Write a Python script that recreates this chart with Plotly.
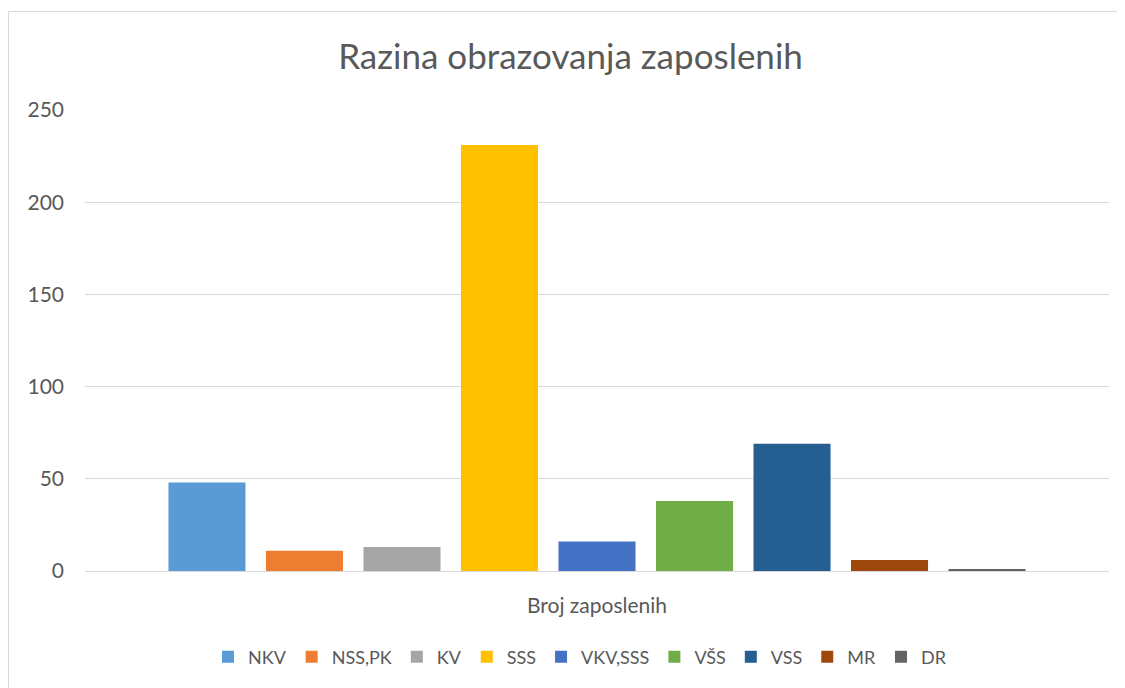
import plotly.graph_objects as go

category = ["Broj zaposlenih"]
series_names = ["NKV", "NSS,PK", "KV", "SSS", "VKV,SSS", "VŠS", "VSS", "MR", "DR"]
series_values = [48, 11, 13, 231, 16, 38, 69, 6, 1]
series_colors = ["#5B9BD5", "#ED7D31", "#A5A5A5", "#FFC000", "#4472C4",
                 "#70AD47", "#255E91", "#9E480E", "#636363"]
y_ticks = [0, 50, 100, 150, 200, 250]

FONT = "Lato"
TXT = "#595959"

# page has an 8px body margin; layout is compensated
L, R, T, B = 77, 24, 102, 125
PW, PH = 1125 - L - R, 688 - T - B

fig = go.Figure()
for name, val, col in zip(series_names, series_values, series_colors):
    fig.add_trace(go.Bar(name=name, x=category, y=[val], marker_color=col,
                         marker_line_width=0))

fig.update_layout(
    width=1125, height=688,
    paper_bgcolor="white", plot_bgcolor="white",
    margin=dict(l=L, r=R, t=T, b=B),
    barmode="group", bargap=0.143, bargroupgap=0.21,
    font=dict(family=FONT, color=TXT, size=18),
    title=dict(text="Razina obrazovanja zaposlenih", x=0.5, xanchor="center",
               y=1 - 49 / 688, yanchor="middle",
               font=dict(family=FONT, size=35, color=TXT)),
    legend=dict(orientation="h", x=(572 - L) / PW, xanchor="center",
                y=(T + PH - 649) / PH, yanchor="middle",
                font=dict(family=FONT, size=18, color=TXT),
                itemwidth=30, traceorder="normal"),
    showlegend=True,
)
fig.update_yaxes(range=[0, 250], tickvals=y_ticks, showgrid=True, gridcolor="#D9D9D9",
                 gridwidth=1, zeroline=False, showline=False, ticks="",
                 ticklabelstandoff=20, tickfont=dict(family=FONT, size=21, color=TXT))
fig.update_xaxes(showline=True, linecolor="#D9D9D9", linewidth=1, ticks="",
                 ticklabelstandoff=16, tickfont=dict(family=FONT, size=21, color=TXT))

fig.add_shape(type="rect", xref="paper", yref="paper",
              x0=(0.5 - L) / PW, x1=(1140 - L) / PW,
              y0=(T + PH - 700) / PH, y1=(T + PH - 3.5) / PH,
              line=dict(color="#D9D9D9", width=1), fillcolor="rgba(0,0,0,0)", layer="below")

fig.write_html("out.html")
